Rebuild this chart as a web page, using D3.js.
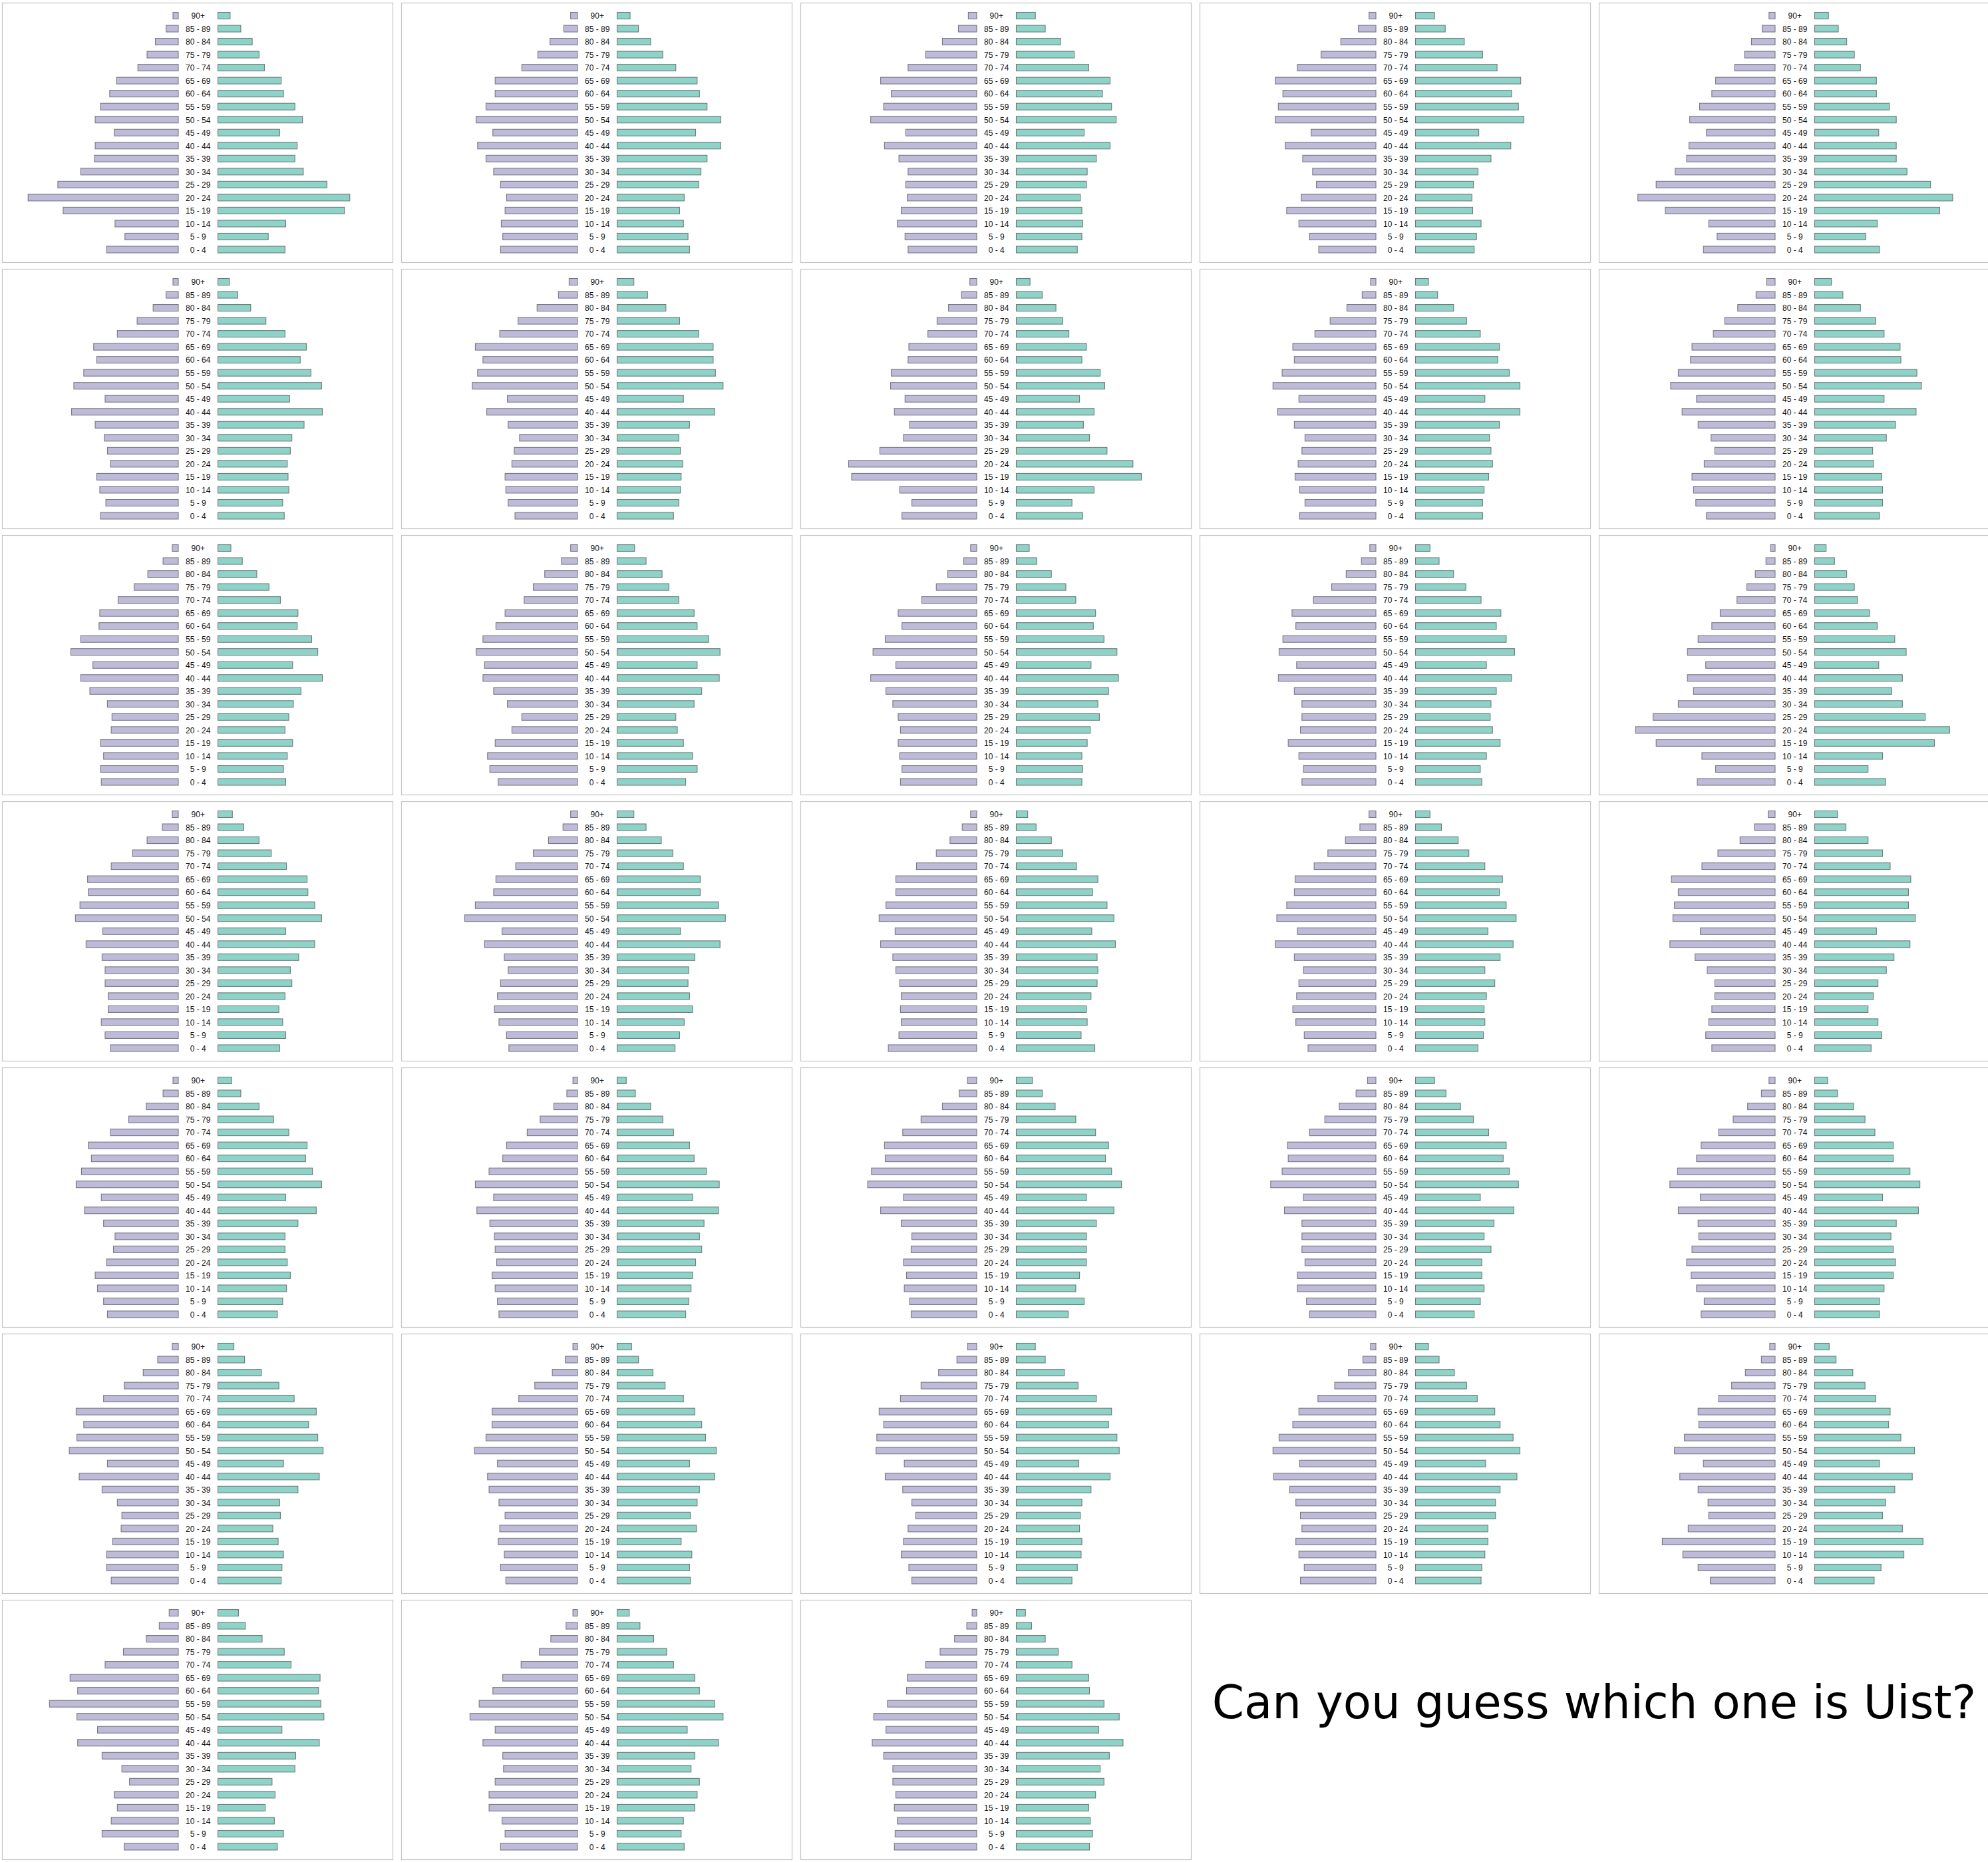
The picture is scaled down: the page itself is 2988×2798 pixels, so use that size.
<!DOCTYPE html>
<html>
<head>
<meta charset="utf-8">
<script src="https://cdn.jsdelivr.net/npm/d3@7"></script>
<style>
html, body { margin: 0; padding: 0; background: #ffffff; }
svg { display: block; }
</style>
</head>
<body>
<script>
// Age groups, top to bottom
const ages = ["90+", "85 - 89", "80 - 84", "75 - 79", "70 - 74", "65 - 69", "60 - 64",
  "55 - 59", "50 - 54", "45 - 49", "40 - 44", "35 - 39", "30 - 34", "25 - 29",
  "20 - 24", "15 - 19", "10 - 14", "5 - 9", "0 - 4"];

// Left-hand series (one row per area, same order as ages)
const leftSeries = [
  [7,16,30,41,53,81,90,102,109,84,109,110,128,158,197,151,83,70,94],
  [9,18,36,52,73,108,108,120,133,111,131,120,110,101,93,95,100,98,101],
  [11,24,45,67,90,126,112,122,139,93,121,102,90,93,91,99,104,94,90],
  [9,23,46,72,103,132,122,128,132,85,119,96,83,78,98,117,101,87,75],
  [8,17,31,40,53,78,83,99,112,90,113,116,131,156,180,144,87,76,94],
  [7,16,33,54,80,111,107,124,137,96,140,109,97,93,89,107,103,95,102],
  [11,25,53,78,102,134,124,131,138,92,119,91,76,83,86,95,94,91,82],
  [9,20,37,52,64,89,90,112,113,94,108,88,96,127,168,164,101,85,98],
  [7,18,38,60,80,109,107,123,135,101,129,107,93,97,102,106,100,93,100],
  [11,25,49,66,81,109,111,127,137,103,122,101,84,79,93,109,107,104,90],
  [8,20,40,58,79,103,104,128,141,112,128,116,93,87,88,102,98,102,101],
  [9,21,43,58,70,95,107,124,133,122,124,110,92,73,86,108,118,115,104],
  [8,17,38,53,72,103,98,120,136,106,139,119,110,103,100,103,101,98,100],
  [8,19,39,58,82,110,105,122,127,104,128,107,97,97,99,115,101,95,97],
  [6,12,26,37,50,72,83,101,115,91,115,107,127,160,183,156,96,78,102],
  [8,21,41,60,88,119,118,129,135,99,121,100,96,96,92,92,101,96,89],
  [9,19,38,58,81,107,110,134,148,99,122,96,91,101,105,109,103,93,90],
  [8,19,35,53,79,106,106,119,128,107,126,110,106,101,99,100,99,102,116],
  [9,21,40,63,81,106,107,117,130,103,132,107,95,101,104,109,105,94,89],
  [9,27,46,75,96,136,127,132,134,98,138,105,89,79,79,83,87,91,83],
  [7,20,42,65,89,118,114,127,134,101,123,98,83,85,94,109,106,98,93],
  [6,14,31,49,66,93,98,116,134,110,132,115,109,108,106,112,108,105,103],
  [12,23,45,73,97,121,120,138,143,96,126,99,85,86,96,92,95,88,86],
  [11,26,48,67,87,116,115,123,138,95,120,97,97,97,93,103,103,91,87],
  [8,18,36,55,74,97,103,128,138,98,127,101,100,109,116,110,103,93,97],
  [8,27,46,71,98,134,124,133,143,93,130,100,80,74,75,86,94,94,88],
  [6,16,33,56,77,112,112,120,135,105,118,116,103,95,102,104,96,101,94],
  [12,26,50,73,100,128,122,131,132,95,120,97,85,80,90,96,99,89,85],
  [7,17,36,54,76,101,109,127,135,100,134,113,105,99,97,105,101,94,99],
  [7,18,39,57,74,101,100,119,132,94,125,101,88,87,114,148,121,101,85],
  [12,25,42,72,96,142,132,169,133,106,132,100,74,64,84,80,88,100,71],
  [6,15,35,50,74,98,111,129,141,108,124,98,97,108,116,116,99,95,101],
  [6,13,29,48,67,91,92,117,135,119,137,122,110,110,106,108,104,107,108]
];

// Right-hand series (one row per area, same order as ages)
const rightSeries = [
  [16,30,45,54,61,83,86,101,111,81,104,101,112,143,173,166,89,66,88],
  [17,28,44,60,77,105,108,118,136,103,136,118,110,107,88,82,87,93,95],
  [25,38,58,76,95,123,113,125,131,89,123,105,93,92,84,86,87,86,80],
  [25,39,64,88,107,138,126,135,142,83,125,99,82,76,74,75,86,80,77],
  [18,31,42,52,60,81,81,98,107,84,107,107,121,152,181,164,82,67,85],
  [15,26,43,63,88,116,108,122,136,94,137,113,97,95,91,92,93,85,87],
  [22,40,64,82,107,126,126,129,139,87,128,95,81,83,86,84,83,81,74],
  [18,34,52,61,69,92,86,110,116,83,102,88,96,119,153,164,102,73,87],
  [17,29,50,67,85,110,108,123,137,91,137,110,97,99,101,96,90,88,88],
  [22,37,60,80,91,112,113,134,140,91,133,106,94,76,77,88,89,89,85],
  [17,32,51,67,82,105,104,123,131,98,137,109,99,93,88,98,91,86,89],
  [23,38,59,68,81,101,105,120,135,105,134,111,101,77,79,87,99,105,90],
  [17,27,46,65,78,104,101,115,132,98,134,121,107,109,97,93,86,87,86],
  [19,31,50,66,86,112,106,119,130,93,126,106,99,98,101,111,93,85,87],
  [15,26,42,52,56,72,82,105,120,84,115,101,115,145,177,157,89,70,93],
  [19,34,54,70,90,117,118,127,136,89,127,106,95,97,88,80,85,89,81],
  [22,38,58,73,87,109,109,133,142,83,135,102,94,93,95,99,88,82,76],
  [15,26,46,61,79,107,100,119,128,99,130,106,107,106,98,92,93,85,103],
  [19,34,56,70,91,114,110,119,132,95,128,111,91,104,93,90,91,89,82],
  [30,41,70,89,99,126,123,123,132,81,125,104,94,83,77,70,83,88,74],
  [18,30,54,73,93,117,115,124,136,89,129,105,88,88,91,95,90,85,78],
  [12,24,44,60,74,95,101,117,134,99,133,114,108,111,103,99,97,94,90],
  [21,34,51,78,104,121,117,125,138,92,128,105,92,92,92,83,78,89,68],
  [25,40,59,76,96,119,115,123,135,85,129,103,90,99,87,87,90,85,77],
  [17,30,51,66,79,103,103,125,138,89,136,107,100,103,106,103,91,85,85],
  [21,35,57,80,100,129,119,131,138,86,133,105,81,82,72,79,86,84,83],
  [19,28,47,63,87,102,111,116,130,95,128,108,105,96,104,84,98,95,96],
  [25,38,63,81,105,125,121,132,135,82,123,98,86,84,83,86,85,80,73],
  [17,31,51,67,81,104,111,128,137,92,133,111,105,105,95,95,91,87,86],
  [19,28,50,66,80,99,97,113,131,85,128,105,93,89,115,142,117,87,78],
  [27,36,58,87,96,134,132,135,139,84,133,102,101,71,75,62,74,86,78],
  [16,30,48,65,74,102,108,128,139,92,133,102,97,108,105,102,87,84,88],
  [12,20,38,55,73,95,96,115,135,108,140,122,110,115,104,95,97,100,96]
];

const questionText = "Can you guess which one is Uist?";

// ---- layout ----
const W = 2988, H = 2798;
const nCols = 5;
const pitchX = 600, pitchY = 400;
const offX = 3, offY = 4;
const panelW = 587, panelH = 390;
const center = 294.75, halfGap = 29.75;

const svg = d3.select("body").append("svg")
  .attr("width", W).attr("height", H)
  .attr("viewBox", `0 0 ${W} ${H}`);

svg.append("rect").attr("width", W).attr("height", H).attr("fill", "#ffffff");

// Shared scales
const x = d3.scaleLinear().domain([0, 100]).range([0, 114.6]);
const y = d3.scalePoint().domain(ages).range([19.5, 371]);
const barH = 10;

leftSeries.forEach((leftVals, i) => {
  const rightVals = rightSeries[i];
  const col = i % nCols, row = Math.floor(i / nCols);
  const g = svg.append("g")
    .attr("transform", `translate(${offX + col * pitchX},${offY + row * pitchY})`);

  g.append("rect")
    .attr("x", 0.5).attr("y", 0.5)
    .attr("width", panelW).attr("height", panelH)
    .attr("fill", "#ffffff")
    .attr("stroke", "#c4c4c4")
    .attr("stroke-width", 1.2);

  const rows = ages.map((a, k) => ({ age: a, l: leftVals[k], r: rightVals[k] }));

  g.selectAll("rect.left").data(rows).join("rect")
    .attr("class", "left")
    .attr("x", d => center - halfGap - x(d.l))
    .attr("y", d => y(d.age) - barH / 2)
    .attr("width", d => x(d.l))
    .attr("height", barH)
    .attr("fill", "#bebada")
    .attr("stroke", "#78787e")
    .attr("stroke-width", 1.1);

  g.selectAll("rect.right").data(rows).join("rect")
    .attr("class", "right")
    .attr("x", center + halfGap)
    .attr("y", d => y(d.age) - barH / 2)
    .attr("width", d => x(d.r))
    .attr("height", barH)
    .attr("fill", "#8dd3c7")
    .attr("stroke", "#707a78")
    .attr("stroke-width", 1.1);

  g.selectAll("text.age").data(rows).join("text")
    .attr("class", "age")
    .attr("x", center)
    .attr("y", d => y(d.age) + 0.5)
    .attr("dy", "0.36em")
    .attr("text-anchor", "middle")
    .attr("font-family", "'Liberation Sans', Arial, sans-serif")
    .attr("font-size", 12)
    .attr("fill", "#111")
    .text(d => d.age);
});

svg.append("text")
  .attr("x", 2396)
  .attr("y", 2582)
  .attr("text-anchor", "middle")
  .attr("font-family", "'DejaVu Sans', sans-serif")
  .attr("font-size", 69)
  .attr("fill", "#000")
  .text(questionText);
</script>
</body>
</html>
